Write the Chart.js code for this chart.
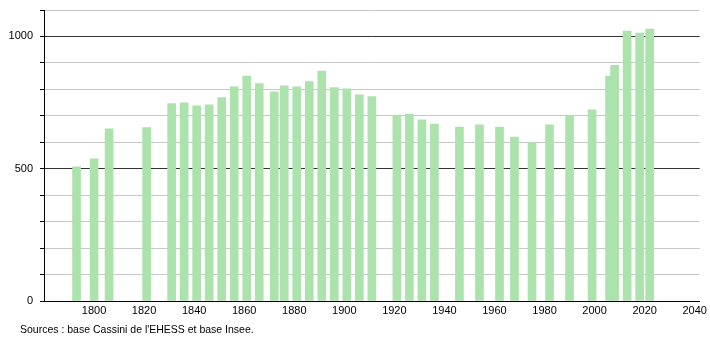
<!DOCTYPE html>
<html>
<head>
<meta charset="utf-8">
<script src="https://cdn.jsdelivr.net/npm/chart.js@4/dist/chart.umd.min.js"></script>
<style>
  html, body { margin: 0; padding: 0; background: #fff; }
  #wrap { width: 710px; height: 340px; position: relative; }
</style>
</head>
<body>
<div id="wrap"><canvas id="c" width="710" height="340"></canvas></div>
<script>
const years = [1793, 1800, 1806, 1821, 1831, 1836, 1841, 1846, 1851, 1856, 1861, 1866, 1872, 1876, 1881, 1886, 1891, 1896, 1901, 1906, 1911, 1921, 1926, 1931, 1936, 1946, 1954, 1962, 1968, 1975, 1982, 1990, 1999, 2006, 2008, 2013, 2018, 2022];
const population = [507, 537, 651, 656, 746, 749, 738, 742, 769, 810, 850, 822, 791, 813, 810, 829, 869, 807, 802, 779, 773, 703, 707, 685, 669, 657, 666, 657, 620, 599, 666, 702, 723, 850, 891, 1020, 1013, 1028];
const xTickValues = [1800, 1820, 1840, 1860, 1880, 1900, 1920, 1940, 1960, 1980, 2000, 2020, 2040];
const yLabelValues = [0, 500, 1000];
const sourceText = "Sources : base Cassini de l'EHESS et base Insee.";

const FONT = "'Liberation Sans', Arial, sans-serif";

const sourcePlugin = {
  id: 'sourceText',
  afterDraw(chart) {
    const ctx = chart.ctx;
    ctx.save();
    ctx.font = "10.5px " + FONT;
    ctx.fillStyle = '#000';
    ctx.textBaseline = 'middle';
    ctx.textAlign = 'left';
    ctx.fillText(sourceText, 20, 330);
    ctx.restore();
  }
};

new Chart(document.getElementById('c'), {
  type: 'bar',
  data: {
    datasets: [{
      data: years.map((yr, i) => ({ x: yr, y: population[i] })),
      backgroundColor: 'rgb(172,226,172)',
      borderWidth: 0,
      barThickness: 8
    }]
  },
  options: {
    responsive: false,
    animation: false,
    events: [],
    layout: { padding: { top: 10, right: 10, left: 0, bottom: 0 } },
    plugins: {
      legend: { display: false },
      tooltip: { enabled: false },
      title: { display: false }
    },
    scales: {
      x: {
        type: 'linear',
        min: 1780,
        max: 2042,
        offset: false,
        afterBuildTicks: (scale) => { scale.ticks = xTickValues.map(v => ({ value: v })); },
        afterFit: (scale) => { scale.height = 39; },
        grid: { display: false, drawTicks: false },
        border: { display: true, color: '#000', width: 1 },
        ticks: {
          autoSkip: false,
          maxRotation: 0,
          padding: 3,
          color: '#000',
          font: { family: FONT, size: 11 },
          callback: (v) => String(v)
        }
      },
      y: {
        min: 0,
        max: 1100,
        afterFit: (scale) => { scale.width = 44; scale.paddingTop = 0; scale.paddingBottom = 0; },
        grid: {
          color: (c) => (c.tick && c.tick.value % 500 === 0) ? '#333333' : '#c8c8c8',
          tickColor: '#000',
          tickLength: 4,
          lineWidth: 1
        },
        border: { display: true, color: '#000', width: 1 },
        ticks: {
          stepSize: 100,
          autoSkip: false,
          padding: 7,
          color: '#000',
          font: { family: FONT, size: 11, lineHeight: 0.6 },
          callback: (v) => yLabelValues.includes(v) ? String(v) : ''
        }
      }
    }
  },
  plugins: [sourcePlugin]
});
</script>
</body>
</html>
